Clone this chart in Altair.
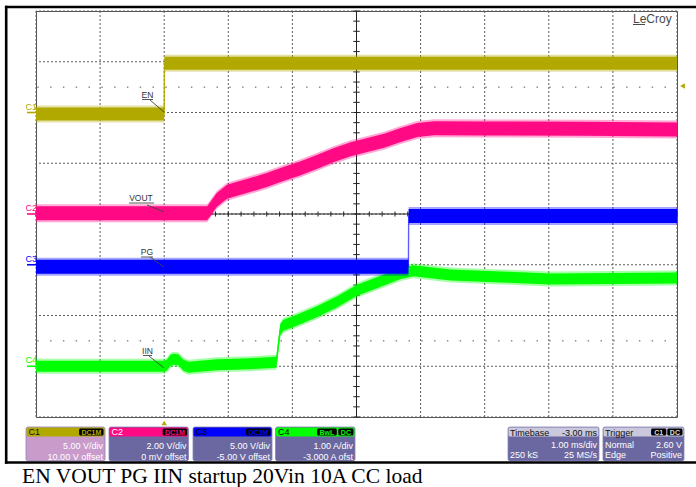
import altair as alt
import pandas as pd

# ---------------- trace data (time in ms, value in channel units) ----------------
en_t = [-2.0, 0.0, 0.004, 8.0]
en_v = [-0.15, -0.15, 4.85, 4.85]

vout_t = [-2.0, 0.67, 0.72, 0.82, 0.98, 1.34, 1.60, 1.86, 2.13, 2.39, 2.65, 2.91, 3.17,
          3.43, 3.69, 3.95, 4.21, 5.0, 6.5, 8.0]
vout_v = [0.03, 0.03, 0.20, 0.55, 0.88, 1.14, 1.34, 1.58, 1.80, 2.06, 2.33, 2.55, 2.72,
          2.89, 3.11, 3.31, 3.38, 3.37, 3.36, 3.33]

pg_t = [-2.0, 3.81, 3.814, 8.0]
pg_v = [-0.2, -0.2, 4.8, 4.8]

iin_t = [-2.0, 0.0, 0.04, 0.10, 0.14, 0.22, 0.30, 0.38, 0.82, 1.34, 1.75, 1.78, 1.81, 1.86,
         2.02, 2.39, 2.70, 3.01, 3.43, 3.69, 3.89, 4.16, 4.47, 5.25, 6.03, 8.0]
iin_a = [0.0, 0.0, 0.02, 0.12, 0.14, 0.13, 0.02, -0.02, 0.03, 0.05, 0.08, 0.40, 0.72, 0.81,
         0.88, 1.08, 1.27, 1.50, 1.70, 1.83, 1.88, 1.84, 1.80, 1.76, 1.72, 1.74]

# ---------------- channel settings ----------------
ch_names = ["C1", "C2", "C3", "C4"]
sig_names = ["EN", "VOUT", "PG", "IIN"]
ch_offset = [10.0, 0.0, -5.0, -3.0]
ch_per_div = [5.0, 2.0, 5.0, 1.0]
ch_coupling = [["DC1M"], ["DC1M"], ["DC1M"], ["BwL", "DC"]]
ch_scale_txt = ["5.00 V/div", "2.00 V/div", "5.00 V/div", "1.00 A/div"]
ch_offset_txt = ["10.00 V offset", "0 mV offset", "-5.00 V offset", "-3.000 A ofst"]
tb_rows = [["Timebase", "-3.00 ms"], ["", "1.00 ms/div"], ["250 kS", "25 MS/s"]]
trig_rows = [["Trigger", ""], ["Normal", "2.60 V"], ["Edge", "Positive"]]
trig_level_v = 2.60
caption = "EN VOUT PG IIN startup 20Vin 10A CC load"

series_t = [en_t, vout_t, pg_t, iin_t]
series_v = [en_v, vout_v, pg_v, iin_a]

# ---------------- styles ----------------
ch_colors = ["#B1A900", "#FF0A84", "#0000FF", "#00FF00"]
hdr_txt = ["#111111", "#FFFFFF", "#000000", "#000000"]
band_px = [6.5, 7.0, 7.0, 5.5]
PX_PER_DIV = 406 / 8.0
OX, OY = 36, 11  # plot origin on the canvas
SANS = "Liberation Sans"

xs = alt.Scale(domain=[-2, 8], nice=False, zero=False)
ys = alt.Scale(domain=[-4, 4], nice=False, zero=False)
dummy = pd.DataFrame({"d": [0]})


def X(f):
    return alt.X(f, type="quantitative", scale=xs, axis=None)


def Y(f):
    return alt.Y(f, type="quantitative", scale=ys, axis=None)


def rect(x1, y1, x2, y2, **kw):
    return alt.Chart(dummy).mark_rect(**kw).encode(
        x=alt.value(x1 - OX), x2=alt.value(x2 - OX), y=alt.value(y1 - OY), y2=alt.value(y2 - OY))


def rule(x1, y1, x2, y2, **kw):
    return alt.Chart(dummy).mark_rule(**kw).encode(
        x=alt.value(x1 - OX), x2=alt.value(x2 - OX), y=alt.value(y1 - OY), y2=alt.value(y2 - OY))


def text(x, y, s, **kw):
    kw.setdefault("font", SANS)
    kw.setdefault("baseline", "alphabetic")
    return alt.Chart(dummy).mark_text(text=s, **kw).encode(x=alt.value(x - OX), y=alt.value(y - OY))


layers = []

# ---------------- graticule ----------------
grid_t = pd.DataFrame({"t": list(range(-2, 9))})
grid_d = pd.DataFrame({"d": list(range(-4, 5))})
layers.append(alt.Chart(grid_t).mark_rule(color="#5c5c5c", strokeDash=[2, 2], strokeWidth=1).encode(x=X("t")))
layers.append(alt.Chart(grid_d).mark_rule(color="#5c5c5c", strokeDash=[2, 2], strokeWidth=1).encode(y=Y("d")))
half = pd.DataFrame({"d": [2.5, -2.5]})
layers.append(alt.Chart(half).mark_rule(color="#555555", strokeDash=[1.5, 11.3], strokeDashOffset=-11,
                                        strokeWidth=1).encode(y=Y("d")))
layers.append(alt.Chart(dummy).mark_rule(color="#222222", strokeWidth=1).encode(x=alt.XDatum(3, scale=xs, axis=None)))
layers.append(alt.Chart(dummy).mark_rule(color="#222222", strokeWidth=1).encode(y=alt.YDatum(0, scale=ys, axis=None)))
tick_t = pd.DataFrame({"t": [-2 + 0.2 * k for k in range(51)]})
tick_d = pd.DataFrame({"d": [-4 + 0.2 * k for k in range(41)]})
layers.append(alt.Chart(tick_t).mark_rule(color="#222222", strokeWidth=1).encode(
    x=X("t"), y=alt.YDatum(-0.05, scale=ys, axis=None), y2=alt.datum(0.05)))
layers.append(alt.Chart(tick_d).mark_rule(color="#222222", strokeWidth=1).encode(
    y=Y("d"), x=alt.XDatum(2.95, scale=xs, axis=None), x2=alt.datum(3.05)))

# ---------------- traces ----------------
for c in [3, 2, 1, 0]:
    hw = band_px[c] / PX_PER_DIV
    fr = 2.0 / PX_PER_DIV
    df = pd.DataFrame({"t": series_t[c], "v": series_v[c]})
    df["i"] = range(len(df))
    df["div"] = (df["v"] + ch_offset[c]) / ch_per_div[c]
    df["lo"] = df["div"] - hw
    df["hi"] = df["div"] + hw
    df["flo"] = df["lo"] - fr
    df["fhi"] = df["hi"] + fr
    col = ch_colors[c]
    base = alt.Chart(df)
    layers.append(base.mark_area(color=col, opacity=0.35).encode(x=X("t"), y=Y("fhi"), y2="flo"))
    layers.append(base.mark_area(color=col, opacity=1).encode(x=X("t"), y=Y("hi"), y2="lo"))
    layers.append(base.mark_line(color=col, strokeWidth=1.4, opacity=0.6 if c == 2 else 0.9).encode(
        x=X("t"), y=Y("div"), order=alt.Order("i:Q")))

# ---------------- channel ground markers on the left ----------------
gdf = pd.DataFrame({"ch": ch_names, "g": [o / p for o, p in zip(ch_offset, ch_per_div)]})
cscale = alt.Scale(domain=ch_names, range=ch_colors)
layers.append(alt.Chart(gdf).mark_text(font=SANS, fontSize=9, align="left", baseline="alphabetic", dy=-3).encode(
    x=alt.value(-10.5), y=Y("g"), text="ch:N", color=alt.Color("ch:N", scale=cscale, legend=None)))
layers.append(alt.Chart(gdf).mark_rule(strokeWidth=1.6).encode(
    x=alt.value(-9), x2=alt.value(0), y=Y("g"), color=alt.Color("ch:N", scale=cscale, legend=None)))

# ---------------- trace annotations ----------------
ann = [  # label, text centre x, baseline y, underline x1, x2, y, leader start, leader end
    ("EN", 147.5, 97.5, 142, 153, 99.5, (150, 100), (164, 112)),
    ("VOUT", 141, 201, 129, 154, 203, (147, 205), (164, 212)),
    ("PG", 147, 254.5, 141, 153, 257, (150, 257), (164, 267)),
    ("IIN", 147.5, 353.5, 143, 152, 355.5, (149, 356), (164, 368)),
]
for s, tx, ty, ux1, ux2, uy, p0, p1 in ann:
    layers.append(text(tx, ty, s, fontSize=8.5, align="center", color="#333333"))
    layers.append(rule(ux1, uy, ux2, uy, color="#444444", strokeWidth=0.9))
    layers.append(rule(p0[0], p0[1], p1[0], p1[1], color="#444444", strokeWidth=0.9))

# ---------------- trigger markers ----------------
layers.append(alt.Chart(dummy).mark_point(shape="triangle-up", filled=True, size=30, opacity=1,
                                          color=ch_colors[0]).encode(
    x=alt.XDatum(0, scale=xs, axis=None), y=alt.value(423 - OY)))
layers.append(alt.Chart(dummy).mark_point(shape="triangle-left", filled=True, size=30, opacity=1,
                                          color=ch_colors[0]).encode(
    x=alt.value(682.5 - OX), y=alt.YDatum((trig_level_v + ch_offset[0]) / ch_per_div[0], scale=ys, axis=None)))

# ---------------- LeCroy logo ----------------
layers.append(text(633, 22.5, "LeCroy", fontSize=12, align="left", color="#4a4a4a"))
layers.append(rule(633, 24.5, 645, 24.5, color="#4a4a4a", strokeWidth=1))

# ---------------- channel info boxes ----------------
box_x = [(26, 105), (109, 188.5), (193, 272), (275.5, 355)]
BODY = "#6B67A0"
for c in range(4):
    x1, x2 = box_x[c]
    body = "#C99BCB" if c == 0 else BODY
    layers.append(rect(x1, 427, x2, 461, color=body, cornerRadius=2, stroke="#8884B8", strokeWidth=0.8))
    layers.append(rect(x1 + 0.5, 427.5, x2 - 0.5, 436.5, color=ch_colors[c], cornerRadius=1.5))
    layers.append(text(x1 + 2.5, 435, ch_names[c], fontSize=9, align="left", color=hdr_txt[c]))
    bx = x2 - 1.5
    for lab in reversed(ch_coupling[c]):
        w = 6 + 4.6 * len(lab)
        layers.append(rect(bx - w, 428.5, bx, 435.5, color="#000000", cornerRadius=1.5))
        layers.append(text(bx - w / 2, 434.6, lab, fontSize=7, fontWeight="bold", align="center",
                           color=ch_colors[c]))
        bx = bx - w - 1.5
    layers.append(text(x2 - 2, 449, ch_scale_txt[c], fontSize=9, align="right", color="#FFFFFF"))
    layers.append(text(x2 - 2, 459.5, ch_offset_txt[c], fontSize=9, align="right", color="#FFFFFF"))

# timebase and trigger boxes
for (x1, x2), rows in [((508, 599), tb_rows), ((603, 684), trig_rows)]:
    layers.append(rect(x1, 427, x2, 461, color=BODY, cornerRadius=2, stroke="#8884B8", strokeWidth=0.8))
    layers.append(rect(x1 + 0.5, 427.5, x2 - 0.5, 436.5, color="#C9C8DC", cornerRadius=1.5))
    for r, (left, right) in enumerate(rows):
        yb = [435.5, 447.5, 458][r]
        col = "#111111" if r == 0 else "#FFFFFF"
        if left:
            layers.append(text(x1 + 2, yb, left, fontSize=9, align="left", color=col))
        if right:
            layers.append(text(x2 - 2, yb, right, fontSize=9, align="right", color=col))
# trigger source badges
bx = 682.5
for lab in ["DC", "C1"]:
    w = 6 + 4.6 * len(lab)
    layers.append(rect(bx - w, 428.5, bx, 435.5, color="#000000", cornerRadius=1.5))
    layers.append(text(bx - w / 2, 434.6, lab, fontSize=7, fontWeight="bold", align="center", color="#DDDDDD"))
    bx = bx - w - 1

# ---------------- outer frame and caption ----------------
layers.append(rule(6.2, 5.8, 6.2, 463.8, color="#000000", strokeWidth=2.6))
layers.append(rule(4.9, 7, 696, 7, color="#000000", strokeWidth=2.6))
layers.append(rule(4.9, 462.5, 696, 462.5, color="#000000", strokeWidth=2.6))
layers.append(text(22, 482.5, caption, font="Liberation Serif", fontSize=21.5, align="left", color="#000000"))

chart = alt.layer(*layers).properties(
    width=641, height=406,
    autosize=alt.AutoSizeParams(type="none"),
    padding={"left": OX, "top": OY, "right": 696 - OX - 641, "bottom": 487 - OY - 406},
    background="#FFFFFF",
).configure_view(stroke="#555555", strokeWidth=1)

chart.save("out.html", embed_options={"renderer": "svg", "actions": False})
